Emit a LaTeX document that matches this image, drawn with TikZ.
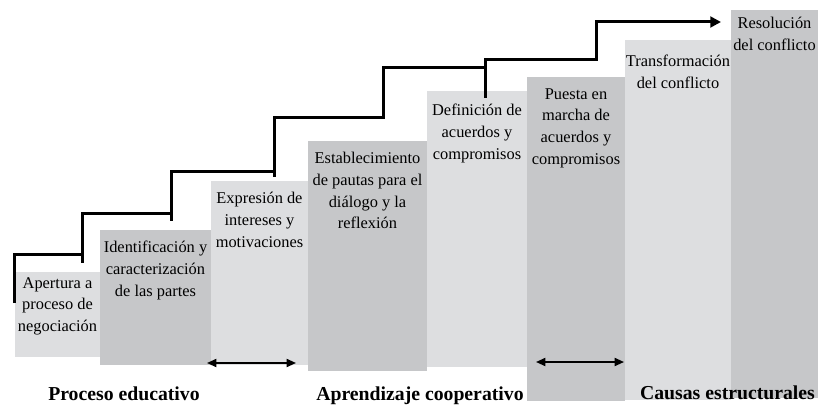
\documentclass[tikz,border=0pt]{standalone}
\usepackage{fontspec}
\setmainfont{Liberation Serif}
\usetikzlibrary{arrows.meta}
\definecolor{steplight}{RGB}{221,222,224}
\definecolor{stepdark}{RGB}{198,199,201}

\begin{document}
\begin{tikzpicture}[x=0.75pt,y=0.75pt,
        stepbox/.style={fill=steplight},
        stepboxdark/.style={fill=stepdark},
        steptext/.style={anchor=north,align=center,inner sep=0pt,font=\fontsize{12.3}{16.3}\selectfont},
        phaselabel/.style={anchor=base,inner sep=0pt,font=\fontsize{14.8}{18}\selectfont\bfseries},
        stair/.style={line width=2.25pt},
        spanarrow/.style={line width=1.3pt,{Triangle[length=7pt,width=6pt]}-{Triangle[length=7pt,width=6pt]}}]
    \useasboundingbox (0,0) rectangle (818,404);
    % peldanos
    \fill[stepbox]     (15,47)  rectangle (100,132);
    \fill[stepboxdark] (100,39) rectangle (211,174);
    \fill[stepbox]     (211,39) rectangle (308,223);
    \fill[stepboxdark] (308,33) rectangle (427,263);
    \fill[stepbox]     (427,37) rectangle (527,313);
    \fill[stepboxdark] (527,3)  rectangle (625,327);
    \fill[stepbox]     (625,4)  rectangle (731,364);
    \fill[stepboxdark] (731,6)  rectangle (818,394);
    % textos
    \node[steptext] (t1) at (57.5,127)  {Apertura a\\proceso de\\negociación};
    \node[steptext] (t2) at (155.5,163) {Identificación y\\caracterización\\de las partes};
    \node[steptext] (t3) at (259.5,212) {Expresión de\\intereses y\\motivaciones};
    \node[steptext] (t4) at (367.5,252) {Establecimiento\\de pautas para el\\diálogo y la\\reflexión};
    \node[steptext] (t5) at (477,300)   {Definición de\\acuerdos y\\compromisos};
    \node[steptext] (t6) at (576,316)   {Puesta en\\marcha de\\acuerdos y\\compromisos};
    \node[steptext] (t7) at (678,349)   {Transformación\\del conflicto};
    \node[steptext] (t8) at (774.5,387) {Resolución\\del conflicto};
    % escalera
    \draw[stair] (14.5,101) |- (82,149);
    \draw[stair] (82,141) |- (171,190);
    \draw[stair] (171,183) |- (274,232);
    \draw[stair] (274,227) |- (383,286) |- (485,336);
    \draw[stair,-{Triangle[length=8pt,width=8pt]}] (485,306) |- (596,344) |- (721,382);
    % flechas dobles
    \coordinate (e1a) at (207,41);
    \coordinate (e1b) at (296,41);
    \coordinate (e2a) at (536,42);
    \coordinate (e2b) at (624,42);
    \draw[spanarrow] (e1a) -- (e1b);
    \draw[spanarrow] (e2a) -- (e2b);
    % fases
    \node[phaselabel] (p1) at (124,4)   {Proceso educativo};
    \node[phaselabel] (p2) at (420,4)   {Aprendizaje cooperativo};
    \node[phaselabel] (p3) at (727.5,5) {Causas estructurales};
\end{tikzpicture}
\end{document}
